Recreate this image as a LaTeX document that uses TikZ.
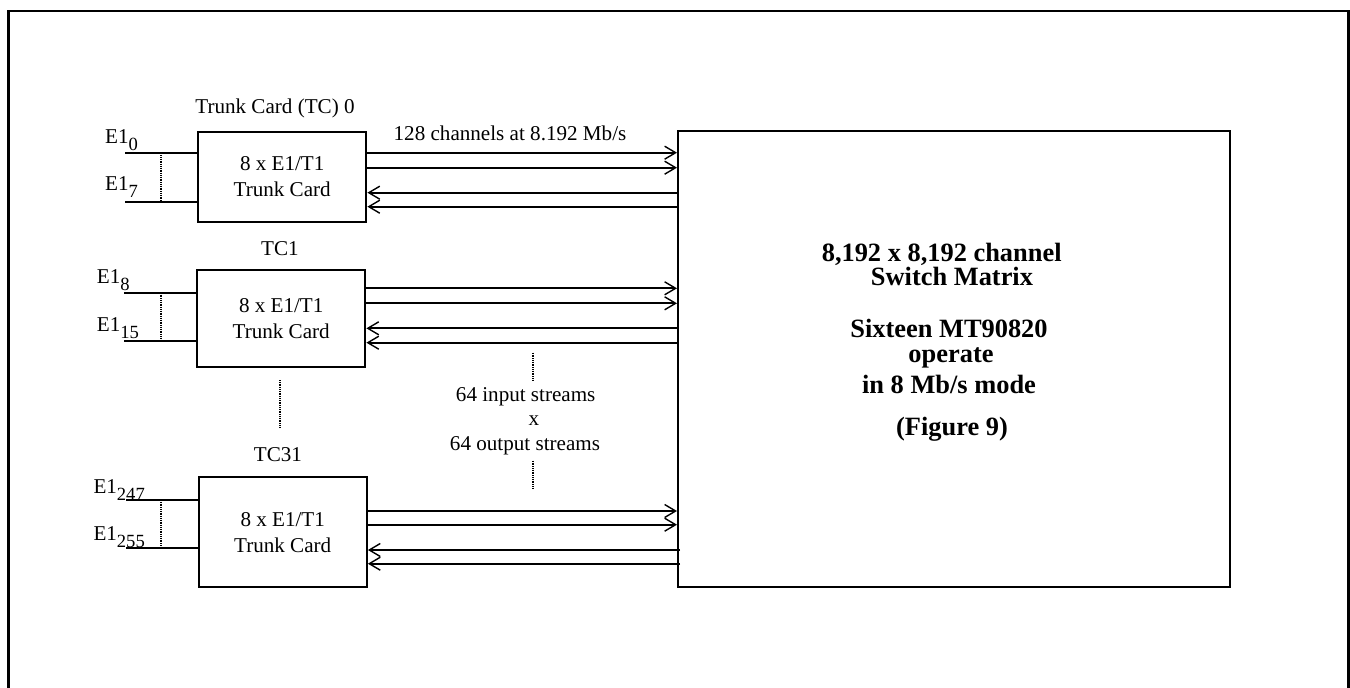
\documentclass[tikz,border=0pt]{standalone}
\usepackage{fontspec}
\setmainfont{Liberation Serif}
\usetikzlibrary{arrows.meta,calc}
\newcommand\subs[1]{\raisebox{-7pt}{\fontsize{18.6}{20}\selectfont #1}}
\begin{document}
\begin{tikzpicture}[x=1pt,y=-1pt,
  box/.style={draw,line width=2.4pt,anchor=north west,inner sep=0pt,align=center,
    font=\fontsize{21.1}{26}\selectfont},
  txt/.style={anchor=base,inner sep=0pt,font=\fontsize{21.1}{25}\selectfont},
  btxt/.style={anchor=base,inner sep=0pt,font=\fontsize{26.4}{30}\selectfont\bfseries},
  elbl/.style={anchor=base west,inner sep=0pt,font=\fontsize{21.1}{25}\selectfont},
  arr/.style={line width=2.1pt,-{Straight Barb[length=11pt,width=13pt,line width=1.4pt]}},
  wire/.style={line width=2.2pt},
  dots/.style={line width=1.4pt,dash pattern=on 1pt off 0.8pt}]
\useasboundingbox (0,0) rectangle (1350,688);
% outer frame (open at bottom)
\draw[line width=2.4pt] (8.5,700) -- (8.5,11) -- (1348.5,11) -- (1348.5,700);

% switch matrix
\node[box,minimum width=552pt,minimum height=456pt] (big) at (677,130) {};
\node[btxt] (m1) at (941.7,261.7) {8,192 x 8,192 channel};
\node[btxt] (m2) at (952,285) {Switch Matrix};
\node[btxt] (m3) at (949,337.3) {Sixteen MT90820};
\node[btxt] (m4) at (951,362) {operate};
\node[btxt] (m5) at (949,393.3) {in 8 Mb/s mode};
\node[btxt] (m6) at (952,435.5) {(Figure 9)};

% trunk cards
\node[box,minimum width=168pt,minimum height=90.3pt] (tc0) at (197,130.7) {8 x E1/T1\\Trunk Card};
\node[box,minimum width=168pt,minimum height=97pt] (tc1) at (196,269) {8 x E1/T1\\Trunk Card};
\node[box,minimum width=168pt,minimum height=110pt] (tc31) at (197.5,476) {8 x E1/T1\\Trunk Card};

\node[txt] (l0) at (275,113.3) {Trunk Card (TC) 0};
\node[txt] (l1) at (280,255) {TC1};
\node[txt] (l31) at (278,461.7) {TC31};
\node[txt] (rate) at (510,140) {128 channels at 8.192 Mb/s};
\node[txt] (s1) at (525.7,401.7) {64 input streams};
\node[txt] (s2) at (534,425) {x};
\node[txt] (s3) at (525,450) {64 output streams};

% E1 labels
\node[elbl] (e0) at (105,143.3) {E1\subs{0}};
\node[elbl] (e7) at (105,190) {E1\subs{7}};
\node[elbl] (e8) at (96.7,283.3) {E1\subs{8}};
\node[elbl] (e15) at (96.7,331.7) {E1\subs{15}};
\node[elbl] (e247) at (93.3,493.3) {E1\subs{247}};
\node[elbl] (e255) at (93.3,540) {E1\subs{255}};

% input wires
\coordinate (w0a) at (125,153.3);  \coordinate (w0b) at (125,202);
\coordinate (w1a) at (124,292.7);  \coordinate (w1b) at (124,340.7);
\coordinate (w2a) at (126,500);    \coordinate (w2b) at (126,547.7);
\draw[wire] (w0a) -- (w0a -| tc0.west);
\draw[wire] (w0b) -- (w0b -| tc0.west);
\draw[wire] (w1a) -- (w1a -| tc1.west);
\draw[wire] (w1b) -- (w1b -| tc1.west);
\draw[wire] (w2a) -- (w2a -| tc31.west);
\draw[wire] (w2b) -- (w2b -| tc31.west);
\draw[dots] ([xshift=36pt]w0a) -- ([xshift=36pt]w0b);
\draw[dots] ([xshift=37pt]w1a) -- ([xshift=37pt]w1b);
\draw[dots] ([xshift=35pt]w2a) -- ([xshift=35pt]w2b);

% streams
\foreach \dy in {22,37}
  \draw[arr] ([yshift=-\dy pt]tc0.north east) -- ([yshift=-\dy pt]tc0.north east -| big.west);
\foreach \dy in {62,76}
  \draw[arr] ([yshift=-\dy pt]tc0.north east -| big.west) -- ([yshift=-\dy pt]tc0.north east);
\foreach \dy in {19.3,34.3}
  \draw[arr] ([yshift=-\dy pt]tc1.north east) -- ([yshift=-\dy pt]tc1.north east -| big.west);
\foreach \dy in {59.3,73.7}
  \draw[arr] ([yshift=-\dy pt]tc1.north east -| big.west) -- ([yshift=-\dy pt]tc1.north east);
\foreach \dy in {35,48.7}
  \draw[arr] ([yshift=-\dy pt]tc31.north east) -- ([yshift=-\dy pt]tc31.north east -| big.west);
\foreach \dy in {74,87.7}
  \draw[arr] ([xshift=3pt,yshift=-\dy pt]tc31.north east -| big.west) -- ([yshift=-\dy pt]tc31.north east);

% continuation marks
\coordinate (d1a) at (280,380); \coordinate (d1b) at (280,428);
\coordinate (d2a) at (533,352.7); \coordinate (d2b) at (533,380);
\coordinate (d3a) at (533,460.7); \coordinate (d3b) at (533,489.3);
\draw[dots] (d1a) -- (d1b);
\draw[dots] (d2a) -- (d2b);
\draw[dots] (d3a) -- (d3b);
\end{tikzpicture}
\end{document}
